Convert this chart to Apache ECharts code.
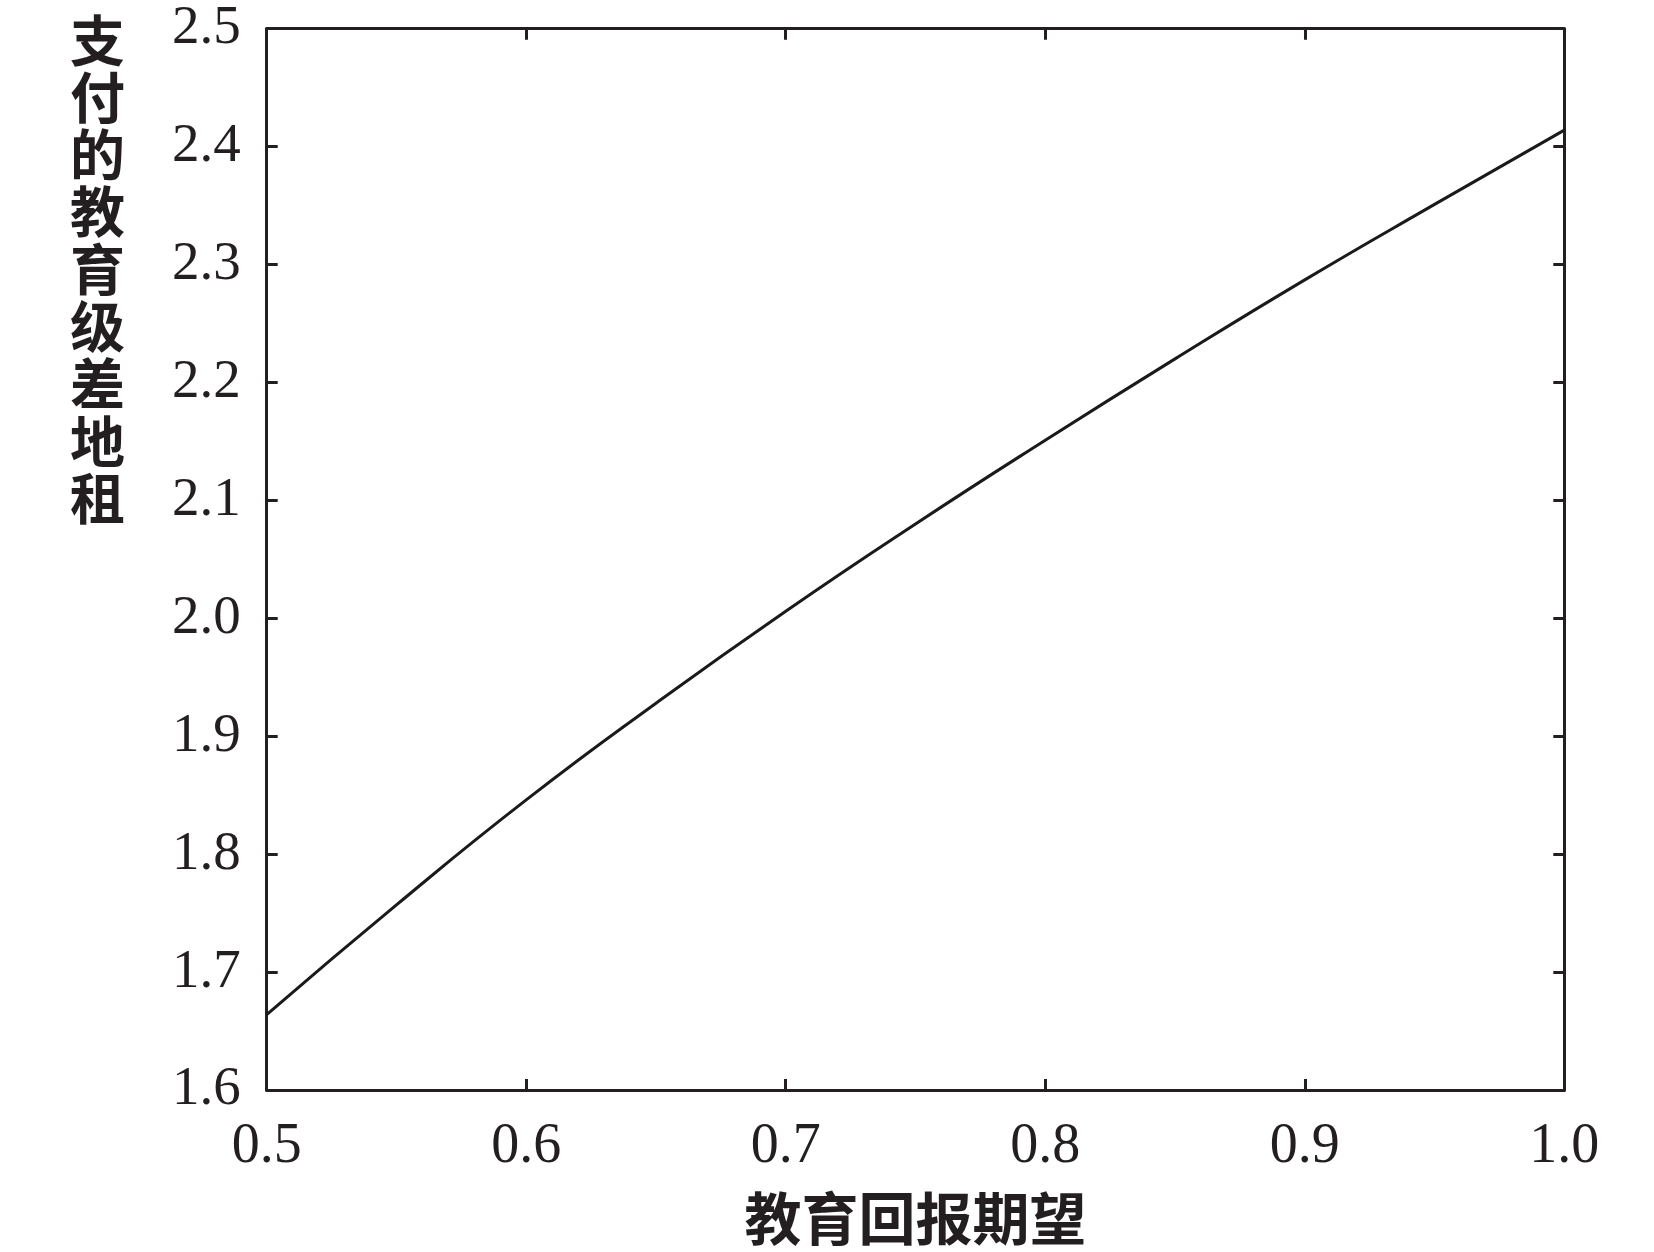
<!DOCTYPE html>
<html>
<head>
<meta charset="utf-8">
<title>教育回报期望与教育级差地租</title>
<script src="https://cdn.jsdelivr.net/npm/echarts@6/dist/echarts.min.js"></script>
<style>
    html, body { margin: 0; padding: 0; background: #fff; }
    #chart { width: 1654px; height: 1252px; }
</style>
</head>
<body>
<div id="chart"></div>
<script>
// 教育回报期望 (x) 与 支付的教育级差地租 (y)，数值读自原图
const returnExpect = [0.50, 0.55, 0.60, 0.65, 0.70, 0.75, 0.80, 0.85, 0.90, 0.95, 1.00]
const rentValues = [1.664, 1.757, 1.846, 1.928, 2.006, 2.080, 2.151, 2.220, 2.287, 2.351, 2.414]
const xTicks = ['0.5', '0.6', '0.7', '0.8', '0.9', '1.0']
const yTicks = ['1.6', '1.7', '1.8', '1.9', '2.0', '2.1', '2.2', '2.3', '2.4', '2.5']
const xName = '教育回报期望'
const yName = '支付的教育级差地租'

const ink = '#231f20'
const serif = '"Liberation Serif", "DejaVu Serif", serif'
const cjk = '"Noto Sans CJK SC", sans-serif'

let chart = echarts.init(document.getElementById('chart'))

// 四边都有向内的刻度，只有下、左两边有标签
const frameLine = { show: true, onZero: false, lineStyle: { color: ink, width: 3 } }
const innerTick = { show: true, inside: true, length: 11, lineStyle: { color: ink, width: 3 } }

chart.setOption({
    animation: false,
    backgroundColor: '#fff',
    title: {
        text: yName.split('').join('\n'),
        left: 65,
        top: 6,
        textStyle: {
            fontFamily: cjk,
            fontSize: 55,
            fontWeight: 'bold',
            lineHeight: 57.3,
            color: ink
        }
    },
    grid: {
        left: 266.7,
        right: 89.7,
        top: 28.7,
        bottom: 160.3
    },
    xAxis: [
        {
            type: 'value',
            position: 'bottom',
            min: 0.5,
            max: 1.0,
            interval: 0.1,
            name: xName,
            nameLocation: 'middle',
            nameGap: 100,
            nameTextStyle: {
                fontFamily: cjk,
                fontSize: 57,
                fontWeight: 'bold',
                color: ink
            },
            axisLine: frameLine,
            axisTick: innerTick,
            splitLine: { show: false },
            axisLabel: {
                margin: 29,
                fontFamily: serif,
                fontSize: 56,
                color: ink,
                formatter: (v) => xTicks[Math.round((v - 0.5) * 10)]
            }
        },
        {
            type: 'value',
            position: 'top',
            min: 0.5,
            max: 1.0,
            interval: 0.1,
            axisLine: frameLine,
            axisTick: innerTick,
            splitLine: { show: false },
            axisLabel: { show: false }
        }
    ],
    yAxis: [
        {
            type: 'value',
            position: 'left',
            min: 1.6,
            max: 2.5,
            interval: 0.1,
            axisLine: frameLine,
            axisTick: innerTick,
            splitLine: { show: false },
            axisLabel: {
                margin: 26,
                fontFamily: serif,
                fontSize: 55,
                color: ink,
                formatter: (v) => yTicks[Math.round((v - 1.6) * 10)]
            }
        },
        {
            type: 'value',
            position: 'right',
            min: 1.6,
            max: 2.5,
            interval: 0.1,
            axisLine: frameLine,
            axisTick: innerTick,
            splitLine: { show: false },
            axisLabel: { show: false }
        }
    ],
    series: [
        {
            type: 'line',
            xAxisIndex: 0,
            yAxisIndex: 0,
            data: returnExpect.map((x, i) => [x, rentValues[i]]),
            smooth: true,
            showSymbol: false,
            lineStyle: { color: '#1a1a1a', width: 3 }
        }
    ]
})
</script>
</body>
</html>
